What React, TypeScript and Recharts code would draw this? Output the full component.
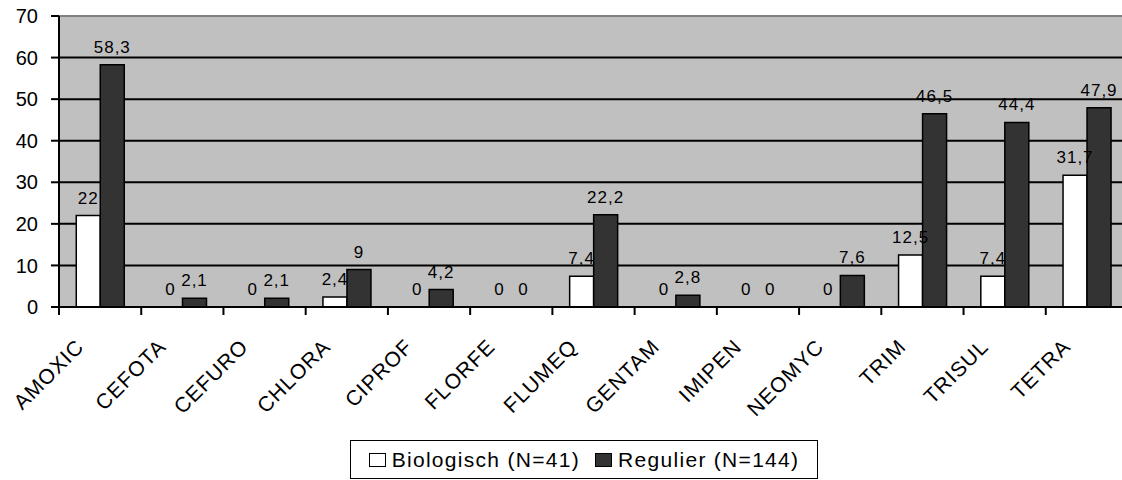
import { BarChart, Bar, XAxis, YAxis, CartesianGrid, Legend, LabelList, ReferenceLine } from 'recharts';

const drugs = ['AMOXIC', 'CEFOTA', 'CEFURO', 'CHLORA', 'CIPROF', 'FLORFE', 'FLUMEQ', 'GENTAM', 'IMIPEN', 'NEOMYC', 'TRIM', 'TRISUL', 'TETRA'];
const biologisch = [22, 0, 0, 2.4, 0, 0, 7.4, 0, 0, 0, 12.5, 7.4, 31.7];
const regulier = [58.3, 2.1, 2.1, 9, 4.2, 0, 22.2, 2.8, 0, 7.6, 46.5, 44.4, 47.9];
const yTicks = [0, 10, 20, 30, 40, 50, 60, 70];

const data = drugs.map((name, i) => ({ name, bio: biologisch[i], reg: regulier[i] }));

const FONT = '"Liberation Sans", Arial, Helvetica, sans-serif';
const CHART_W = 1130;
const MARGIN = { top: 16, right: 2, left: 0, bottom: 0 };
const Y_W = 59;
const BAND = (CHART_W - MARGIN.left - MARGIN.right - Y_W) / drugs.length;

const fmt = (v: any) => String(v).replace('.', ',');

// value label above each bar, also for zero-height bars
function ValueLabel(props: any) {
    const { x, y, width, height, value } = props;
    if (value === undefined || value === null) return null;
    const top = Math.min(y, y + height);
    return (
        <text
            x={x + width / 2}
            y={top - 12}
            textAnchor="middle"
            fontSize={17}
            letterSpacing={1}
            fontFamily={FONT}
            fill="#000"
        >
            {fmt(value)}
        </text>
    );
}

function DrugTick(props: any) {
    const { x, y, payload } = props;
    const bx = x - BAND / 2;
    const tx = x - 15;
    const ty = y + 41;
    return (
        <g>
            <line x1={bx} y1={y} x2={bx} y2={y + 8} stroke="#000" strokeWidth={2} />
            <text
                x={tx}
                y={ty}
                transform={`rotate(-45 ${tx} ${ty})`}
                textAnchor="end"
                fontSize={21}
                letterSpacing={1}
                fontFamily={FONT}
                fill="#000"
            >
                {payload.value}
            </text>
        </g>
    );
}

function LegendBox() {
    const items = [
        { label: 'Biologisch (N=41)', color: '#ffffff' },
        { label: 'Regulier (N=144)', color: '#333333' },
    ];
    return (
        <div
            style={{
                boxSizing: 'border-box',
                width: 468,
                height: 39,
                border: '1.5px solid #000',
                display: 'flex',
                alignItems: 'center',
                justifyContent: 'center',
                gap: 15,
                fontFamily: FONT,
                fontSize: 21,
                letterSpacing: 1.3,
                color: '#000',
                background: '#fff',
            }}
        >
            {items.map((it) => (
                <span key={it.label} style={{ display: 'flex', alignItems: 'center', gap: 6 }}>
                    <span
                        style={{
                            display: 'inline-block',
                            width: 17,
                            height: 14,
                            boxSizing: 'border-box',
                            border: '1.5px solid #000',
                            background: it.color,
                        }}
                    />
                    {it.label}
                </span>
            ))}
        </div>
    );
}

export default function App() {
    return (
        <div style={{ position: 'absolute', left: 0, top: 0, width: 1122, height: 480, overflow: 'hidden', background: '#fff' }}>
            <BarChart width={CHART_W} height={480} data={data} margin={MARGIN} barGap={0} barCategoryGap="21%">
                <CartesianGrid vertical={false} stroke="#000" strokeWidth={2} fill="#c0c0c0" />
                <ReferenceLine y={70} stroke="#808080" strokeWidth={2} />
                <YAxis
                    width={Y_W}
                    domain={[0, 70]}
                    ticks={yTicks}
                    interval={0}
                    axisLine={{ stroke: '#000', strokeWidth: 2 }}
                    tickLine={{ stroke: '#000', strokeWidth: 2 }}
                    tickSize={8}
                    tickMargin={13}
                    tick={{ fill: '#000', fontSize: 20, fontFamily: FONT }}
                />
                <XAxis
                    dataKey="name"
                    height={134}
                    interval={0}
                    axisLine={{ stroke: '#000', strokeWidth: 2 }}
                    tickLine={false}
                    tickSize={0}
                    tickMargin={0}
                    tick={<DrugTick />}
                />
                <Legend
                    verticalAlign="bottom"
                    content={<LegendBox />}
                    wrapperStyle={{ position: 'absolute', left: 350, top: 440, bottom: 'auto', width: 468, height: 39 }}
                />
                <Bar dataKey="bio" name="Biologisch (N=41)" fill="#ffffff" stroke="#000" strokeWidth={1.5} minPointSize={0.01} isAnimationActive={false}>
                    <LabelList dataKey="bio" content={<ValueLabel />} />
                </Bar>
                <Bar dataKey="reg" name="Regulier (N=144)" fill="#333333" stroke="#000" strokeWidth={1.5} minPointSize={0.01} isAnimationActive={false}>
                    <LabelList dataKey="reg" content={<ValueLabel />} />
                </Bar>
            </BarChart>
        </div>
    );
}
